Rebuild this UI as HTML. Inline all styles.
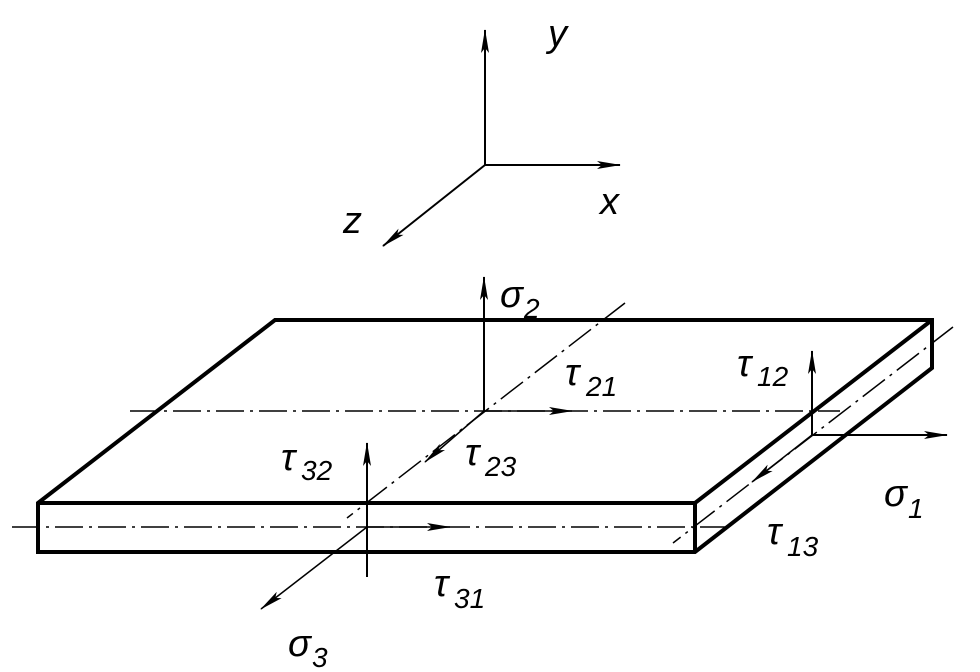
<!DOCTYPE html>
<html><head><meta charset="utf-8"><style>
html,body{margin:0;padding:0;background:#fff;}
svg{display:block;}
text{font-family:"Liberation Sans",sans-serif;font-style:italic;fill:#000;}
.l{font-size:38px;}
.s{font-size:28px;}
</style></head><body>
<svg width="980" height="672" viewBox="0 0 980 672" xmlns="http://www.w3.org/2000/svg">
<defs>
<marker id="a" markerWidth="24" markerHeight="10" refX="23" refY="5" orient="auto" markerUnits="userSpaceOnUse">
<path d="M0,1 L24,5 L0,9 L5,5 Z" fill="#000"/>
</marker>
</defs>
<g stroke="#000" fill="none">
<line x1="485" y1="165" x2="485" y2="30" stroke-width="2" marker-end="url(#a)"/>
<line x1="485" y1="165" x2="620" y2="165" stroke-width="2" marker-end="url(#a)"/>
<line x1="485" y1="165" x2="383" y2="246" stroke-width="2" marker-end="url(#a)"/>
<path d="M38,503 L275,320 L932,320 L932,368 L695,552 L38,552 Z" stroke-width="4" stroke-linejoin="miter"/>
<path d="M38,503 L695,503 L932,320 M695,503 L695,552" stroke-width="4"/>
<g stroke-width="1.5" stroke-dasharray="28,6,3,6">
<line x1="130" y1="411" x2="840" y2="411"/>
<line x1="625" y1="303" x2="347" y2="518"/>
<line x1="12" y1="527" x2="725" y2="527"/>
<line x1="953" y1="327" x2="673" y2="543"/>
</g>
<line x1="484" y1="411" x2="572" y2="411" stroke-width="1.5" marker-end="url(#a)"/>
<line x1="484" y1="411" x2="425" y2="462" stroke-width="1.5" marker-end="url(#a)"/>
<line x1="367" y1="527" x2="450" y2="527" stroke-width="1.5" marker-end="url(#a)"/>
<line x1="812" y1="435" x2="752" y2="482" stroke-width="1.5" marker-end="url(#a)"/>
<line x1="484" y1="411" x2="484" y2="277" stroke-width="2" marker-end="url(#a)"/>
<line x1="367" y1="577" x2="367" y2="443" stroke-width="2" marker-end="url(#a)"/>
<line x1="367" y1="527" x2="261" y2="609" stroke-width="1.5" marker-end="url(#a)"/>
<line x1="812" y1="435" x2="812" y2="351" stroke-width="2" marker-end="url(#a)"/>
<line x1="812" y1="435" x2="947" y2="435" stroke-width="2" marker-end="url(#a)"/>
</g>
<text x="548" y="46" class="l" transform="scale(1,1)">y</text>
<text x="600" y="214" class="l">x</text>
<text x="343" y="233" class="l">z</text>
<text x="500" y="307" class="l">σ</text><text x="524" y="318" class="s">2</text>
<text x="565" y="385" class="l">τ</text><text x="586" y="396" class="s">21</text>
<text x="737" y="376" class="l">τ</text><text x="757" y="386" class="s">12</text>
<text x="281" y="470" class="l">τ</text><text x="301" y="480" class="s">32</text>
<text x="465" y="465" class="l">τ</text><text x="485" y="476" class="s">23</text>
<text x="884" y="506" class="l">σ</text><text x="908" y="518" class="s">1</text>
<text x="767" y="544" class="l">τ</text><text x="787" y="556" class="s">13</text>
<text x="434" y="596" class="l">τ</text><text x="454" y="608" class="s">31</text>
<text x="288" y="656" class="l">σ</text><text x="312" y="667" class="s">3</text>
</svg>
</body></html>
